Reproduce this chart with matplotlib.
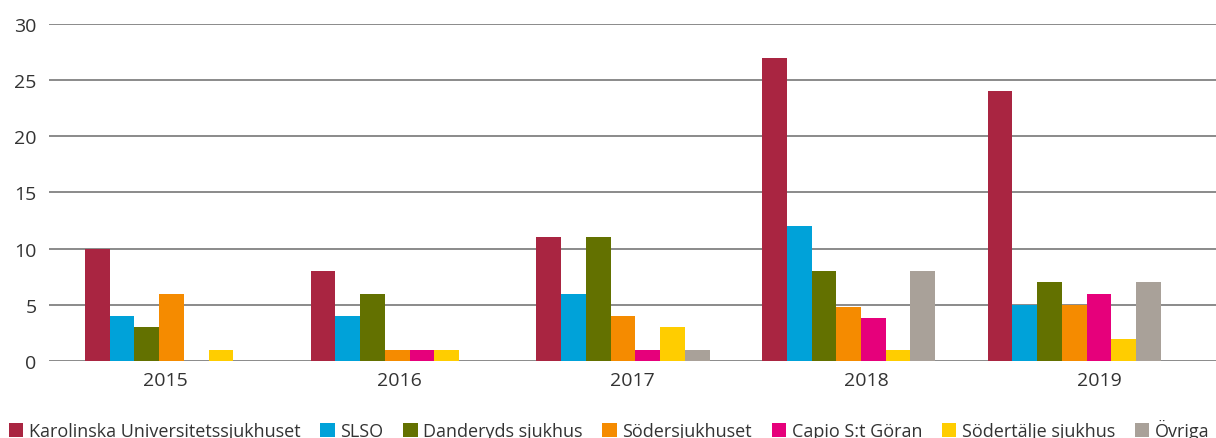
import matplotlib
matplotlib.use("Agg")
import matplotlib.pyplot as plt
import numpy as np

plt.rcParams['font.family'] = ['Open Sans', 'DejaVu Sans']

years = ["2015", "2016", "2017", "2018", "2019"]
series_names = ["Karolinska Universitetssjukhuset", "SLSO", "Danderyds sjukhus",
                "Södersjukhuset", "Capio S:t Göran", "Södertälje sjukhus", "Övriga"]
karolinska = [10, 8, 11, 27, 24]
slso = [4, 4, 6, 12, 5]
danderyd = [3, 6, 11, 8, 7]
soder = [6, 1, 4, 4.8, 5]
capio = [0, 1, 1, 3.8, 6]
sodertalje = [1, 1, 3, 1, 2]
ovriga = [0, 0, 1, 8, 7]
colors = ["#A92541", "#00A2D9", "#637100", "#F58B00", "#E6007B", "#FFCD00", "#A9A199"]

data = [karolinska, slso, danderyd, soder, capio, sodertalje, ovriga]

fig = plt.figure(figsize=(12.16, 4.39), dpi=100)
ax = fig.add_axes([0.0403, 0.1754, 0.9597, 0.768])
x = np.arange(len(years))
group_pos = x * 0.967 + 0.025
w = 0.106
for i, (vals, c, name) in enumerate(zip(data, colors, series_names)):
    ax.bar(group_pos + (i - 3) * w, vals, width=w, color=c, label=name, zorder=3)

ax.set_xlim(-0.5, 4.5)
ax.set_ylim(0, 30)
ax.set_yticks(range(0, 31, 5))
ax.yaxis.grid(True, color="#8a8a8a", linewidth=1.4, zorder=0)
ax.set_axisbelow(True)
for s in ax.spines.values():
    s.set_visible(False)
ax.tick_params(axis='both', length=0, labelsize=14, colors="#333333")
ax.tick_params(axis='y', pad=9)
ax.tick_params(axis='x', pad=7)
ax.set_xticks(x)
ax.set_xticklabels(years)

handles, labels = ax.get_legend_handles_labels()
leg = fig.legend(handles, labels, loc='lower left', bbox_to_anchor=(-0.006, -0.042), ncol=7,
                 frameon=False, fontsize=13, handlelength=0.8, handleheight=0.8,
                 handletextpad=0.3, columnspacing=1.1, labelcolor="#333333")

fig.savefig("out.png", dpi=100)
